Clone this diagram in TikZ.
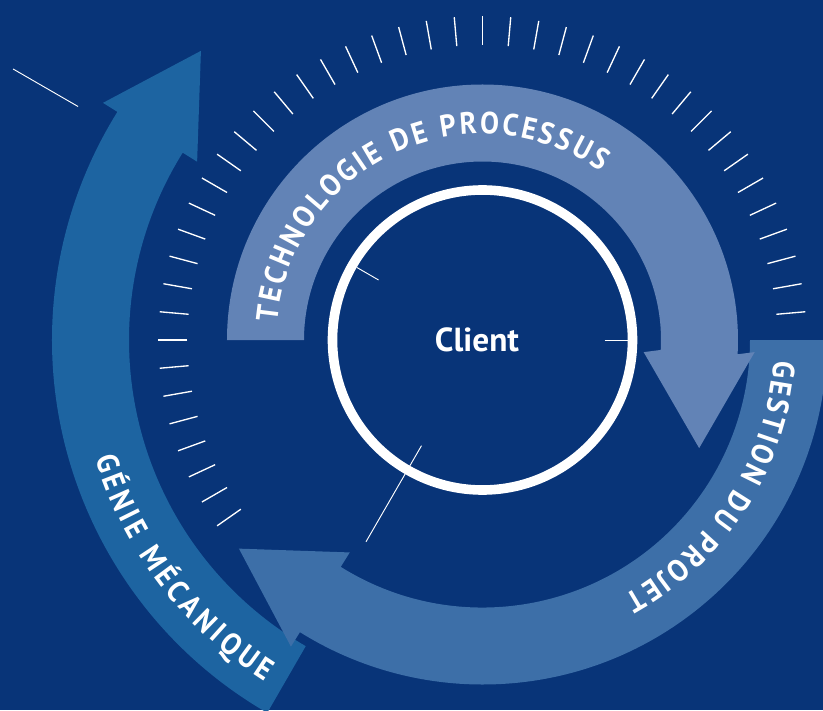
\documentclass[tikz,border=0pt]{standalone}
\usepackage{fontspec}
\setmainfont{PT Sans}
\newfontfamily\bandfamily{PT Sans}[FakeStretch=0.92]
\usetikzlibrary{calc,decorations.text}

\tikzset{every picture/.style={line width=0.75pt}}
\tikzset{
  backdrop/.style={fill={rgb, 255:red,   8; green,  52; blue, 120 }},
  techband/.style={fill={rgb, 255:red,  98; green, 131; blue, 182 }},
  gestband/.style={fill={rgb, 255:red,  61; green, 111; blue, 168 }},
  genieband/.style={fill={rgb, 255:red,  29; green, 100; blue, 161 }},
  tickline/.style={draw=white, line width=1pt},
  markline/.style={draw=white, line width=0.7pt},
  bandtext/.style={decorate, decoration={text along path, text align={fit to path}, text color=white}}
}
\newcommand{\bandfont}{\bandfamily\bfseries\fontsize{23}{23}\selectfont}

\begin{document}
\begin{tikzpicture}[x=0.75pt, y=0.75pt]

    \fill [backdrop] (-482.5,-370) rectangle (340.5,340);
    \useasboundingbox (-482.5,-370) rectangle (340.5,340);

    \foreach \a in {5,10,...,215}
        \draw [tickline] (\a:295) -- (\a:324);

    \draw [markline] (0:122) -- (0:147);
    \draw [markline] (150:120) -- (150:145);
    \draw [markline] (150:467) -- (150:542);
    \draw [markline] (240:122) -- (240:233);

    \draw [white, line width=7.2pt] (0,0) circle (150);
    \node [text=white, font=\bfseries\fontsize{25}{25}\selectfont] (client) at (-5.5,0) {Client};

    \fill [genieband]
          (240:430.5) arc[start angle=240, end angle=148, radius=430.5]
          -- (148:447.5) -- ($(148:392)+(58:96)$) -- (148:336.5)
          -- (148:353.5) arc[start angle=148, end angle=240, radius=353.5] -- cycle;

    \fill [gestband]
          (360:344.5) arc[start angle=360, end angle=238, radius=344.5]
          -- (238:361.5) -- ($(238:306)+(148:96)$) -- (238:250.5)
          -- (238:267.5) arc[start angle=238, end angle=360, radius=267.5] -- cycle;

    \fill [techband]
          (180:255.5) arc[start angle=180, end angle=-3.2, radius=255.5]
          -- ($(-3.2:217)+(55.5,0)$) -- ($(-3.2:217)+(0,-96)$) -- ($(-3.2:217)+(-55.5,0)$)
          -- (-3.2:178.5) arc[start angle=-3.2, end angle=180, radius=178.5] -- cycle;

    \path [bandtext, decoration={text={|\bandfont|TECHNOLOGIE DE PROCESSUS}}]
          (175:206) arc[start angle=175, end angle=55, radius=206];
    \path [bandtext, decoration={text={|\bandfont|GESTION DU PROJET}}]
          (-4:292) arc[start angle=-4, end angle=-61, radius=292];
    \path [bandtext, decoration={text={|\bandfont|GÉNIE MÉCANIQUE}}]
          (197:405) arc[start angle=197, end angle=237.5, radius=405];

\end{tikzpicture}
\end{document}
